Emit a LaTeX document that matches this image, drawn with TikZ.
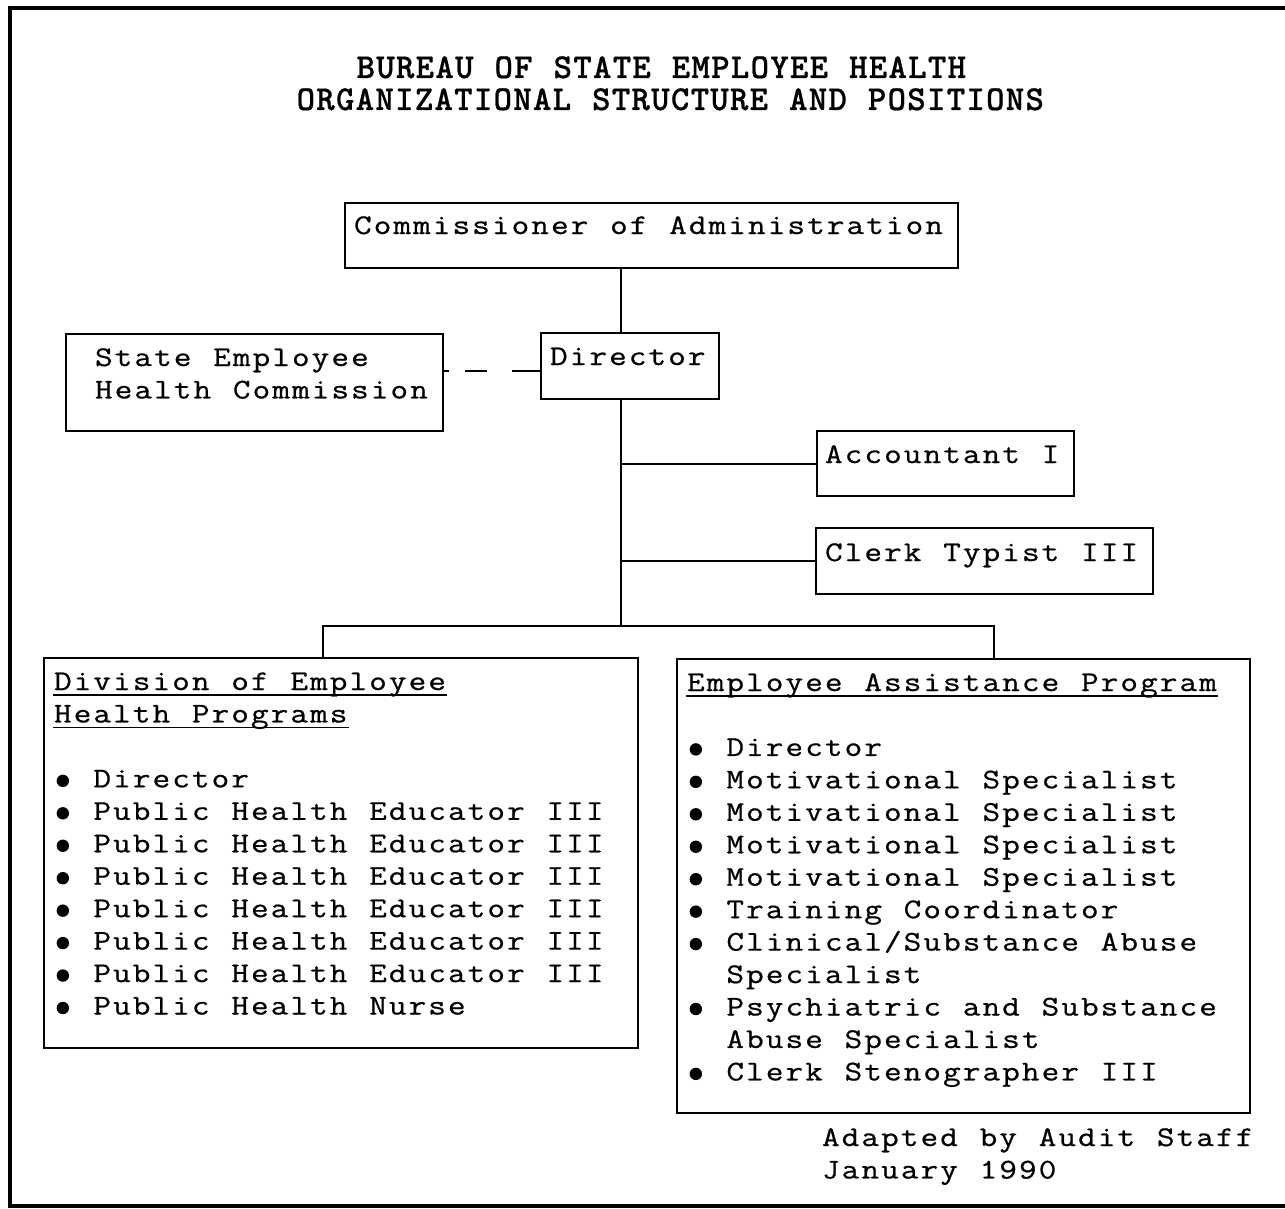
\documentclass[tikz,border=0pt]{standalone}
\usepackage{fontspec}
\newfontfamily\bodyfont{Latin Modern Mono}[FakeStretch=1.2,FakeBold=0.7]
\newfontfamily\headfont{lmmonolt10-bold.otf}[FakeBold=0.6]
\newdimen\cellw \cellw=19.7pt
% typewriter layout: every character sits in a fixed-width cell
\ExplSyntaxOn
\NewDocumentCommand\mono{m}{\str_map_inline:nn{#1}{\makebox[\cellw][c]{##1}}}
\ExplSyntaxOff
\newcommand\umono[1]{\setbox0=\hbox{\mono{#1}}\rlap{\rule[-6pt]{\wd0}{1.6pt}}\box0}
\newcommand\bul{\makebox[\cellw][c]{\tikz[baseline=0pt]\fill (0pt,6.5pt) circle[radius=6.2pt];}}
\newcommand\blank{\makebox[\cellw]{}}
\newcommand\bitem[1]{\hbox{\bul\blank\mono{#1}}}
\newcommand\cont[1]{\hbox{\blank\blank\mono{#1}}}
\newcommand\pline[1]{\hbox{\mono{#1}}}
\newcommand\uline[1]{\hbox{\umono{#1}}}
\newcommand\stack[1]{\vtop{\baselineskip=32.45pt\lineskiplimit=-1000pt\lineskip=0pt #1}}
\begin{document}
\begin{tikzpicture}[x=1pt,y=-1pt,
  box/.style={draw, line width=2pt, inner sep=0pt, outer sep=0pt, anchor=north west},
  txt/.style={inner sep=0pt, outer sep=0pt, anchor=base west, font=\bodyfont\fontsize{28.5}{32.45}\selectfont},
  head/.style={inner sep=0pt, outer sep=0pt, anchor=base west, font=\headfont\fontsize{35}{32}\selectfont},
  link/.style={line width=2pt}]
\useasboundingbox (0,0) rectangle (1285,1209);
% page frame
\draw[line width=4pt] (1300,8) -- (10,8) -- (10,1206) -- (1300,1206);

% title
\node[head] (t1) at (356,78) {\mono{BUREAU OF STATE EMPLOYEE HEALTH}};
\node[head] (t2) at (296,110) {\mono{ORGANIZATIONAL STRUCTURE AND POSITIONS}};

% boxes
\node[box, minimum width=613, minimum height=65] (comm) at (345,203) {};
\node[box, minimum width=178, minimum height=66] (dir) at (541,333) {};
\node[box, minimum width=377, minimum height=97] (sehc) at (66,334) {};
\node[box, minimum width=257, minimum height=65] (acct) at (817,431) {};
\node[box, minimum width=337, minimum height=66] (clerk) at (816,528) {};
\node[box, minimum width=594, minimum height=390] (div) at (44,658) {};
\node[box, minimum width=573, minimum height=454] (eap) at (677,659) {};

% box texts
\node[txt] (commtxt) at (353,234) {\mono{Commissioner of Administration}};
\node[txt] (dirtxt) at (549,365) {\mono{Director}};
\node[txt] (sehctxt) at (94,366) {\stack{\pline{State Employee}\pline{Health Commission}}};
\node[txt] (accttxt) at (824,463) {\mono{Accountant I}};
\node[txt] (clerktxt) at (824,561) {\mono{Clerk Typist III}};
\node[txt] (divtxt) at (53,690) {\stack{%
  \uline{Division of Employee}\uline{Health Programs}\hbox{}%
  \bitem{Director}%
  \bitem{Public Health Educator III}\bitem{Public Health Educator III}%
  \bitem{Public Health Educator III}\bitem{Public Health Educator III}%
  \bitem{Public Health Educator III}\bitem{Public Health Educator III}%
  \bitem{Public Health Nurse}}};
\node[txt] (eaptxt) at (686,691) {\stack{%
  \uline{Employee Assistance Program}\hbox{}%
  \bitem{Director}%
  \bitem{Motivational Specialist}\bitem{Motivational Specialist}%
  \bitem{Motivational Specialist}\bitem{Motivational Specialist}%
  \bitem{Training Coordinator}%
  \bitem{Clinical/Substance Abuse}\cont{Specialist}%
  \bitem{Psychiatric and Substance}\cont{Abuse Specialist}%
  \bitem{Clerk Stenographer III}}};
\node[txt] (note) at (821,1146) {\stack{\pline{Adapted by Audit Staff}\pline{January 1990}}};

% connectors
\coordinate (trunk) at (621,626);
\coordinate (dropL) at (323,626);
\coordinate (dropR) at (994,626);
\coordinate (dashy) at (0,371);
\draw[link] (comm.south -| trunk) -- (dir.north -| trunk);
\draw[link] (dir.south -| trunk) -- (trunk);
\draw[link] (acct.west -| trunk) -- (acct.west);
\draw[link] (clerk.west -| trunk) -- (clerk.west);
\draw[link] (div.north -| dropL) -- (dropL) -- (dropR) -- (eap.north -| dropR);
\draw[link, dash pattern=on 6pt off 16pt on 22pt off 25pt on 29pt off 10pt]
  (sehc.east |- dashy) -- (dir.west |- dashy);
\end{tikzpicture}
\end{document}
